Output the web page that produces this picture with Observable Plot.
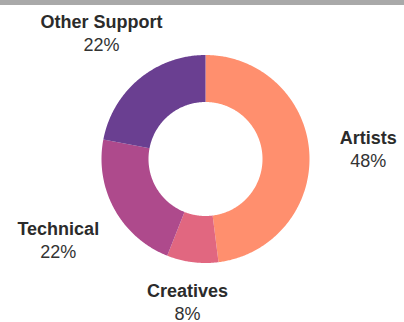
<!DOCTYPE html>
<html><head><meta charset="utf-8">
<script src="https://cdn.jsdelivr.net/npm/d3@7"></script>
<script src="https://cdn.jsdelivr.net/npm/@observablehq/plot@0.6"></script>
<style>
html,body{margin:0;padding:0;background:#fff;}
#bar{height:5px;background:#a9a9a9;width:404px;}
#chart svg{display:block;}
</style></head><body>
<div id="bar"></div>
<div id="chart"></div>
<script>
const categories = ["Artists", "Creatives", "Technical", "Other Support"];
const shares = [48, 8, 22, 22];
const percentLabels = ["48%", "8%", "22%", "22%"];
const colors = ["#FF8F6E", "#E16780", "#AE4A8C", "#6A3F91"];

// layout
const W = 404, H = 317;
const cx = 205, cy = 153.5, R = 104, R0 = 57;
const labelRadius = {"Artists": 163, "Creatives": 144, "Technical": 168, "Other Support": 163};

const arcs = d3.pie().sort(null).value(d => d)(shares);
const ring = [];
arcs.forEach((p, i) => {
  const span = p.endAngle - p.startAngle;
  const n = Math.max(2, Math.ceil(span / 0.01));
  for (let k = 0; k <= n; k++) {
    const a = p.startAngle + span * k / n;
    ring.push({cat: categories[i], x: cx + R * Math.sin(a), y: cy - R * Math.cos(a)});
  }
  for (let k = n; k >= 0; k--) {
    const a = p.startAngle + span * k / n;
    ring.push({cat: categories[i], x: cx + R0 * Math.sin(a), y: cy - R0 * Math.cos(a)});
  }
});
const labels = arcs.map((p, i) => {
  const a = (p.startAngle + p.endAngle) / 2;
  const lr = labelRadius[categories[i]];
  return {cat: categories[i], pct: percentLabels[i], x: cx + lr * Math.sin(a), y: cy - lr * Math.cos(a)};
});

const chart = Plot.plot({
  width: W, height: H, margin: 0,
  x: {domain: [0, W], range: [0, W], axis: null},
  y: {domain: [0, H], range: [0, H], axis: null},
  color: {domain: categories, range: colors},
  style: {fontFamily: "'Liberation Sans', Arial, sans-serif", background: "#fff"},
  marks: [
    Plot.line(ring, {x: "x", y: "y", z: "cat", fill: "cat", stroke: "none", curve: "linear-closed"}),
    Plot.text(labels, {x: "x", y: "y", text: "cat", fontWeight: "bold", fontSize: 18, lineAnchor: "bottom", dy: -5, fill: "#2b2b2b", textAnchor: "middle"}),
    Plot.text(labels, {x: "x", y: "y", text: "pct", fontSize: 18, lineAnchor: "bottom", dy: 18, fill: "#333", textAnchor: "middle"})
  ]
});
document.getElementById("chart").appendChild(chart);
</script>
</body></html>
